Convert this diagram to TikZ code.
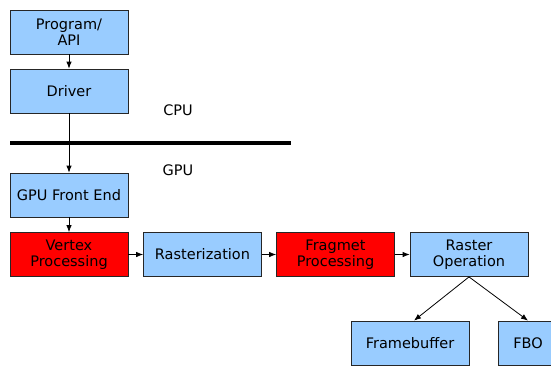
\documentclass[tikz,border=0pt]{standalone}
\usepackage{fontspec}
\setmainfont{DejaVu Sans}
\usetikzlibrary{arrows.meta,calc}
\definecolor{boxblue}{HTML}{99CCFF}
\definecolor{boxred}{HTML}{FF0000}
\begin{document}
\begin{tikzpicture}[x=1pt,y=-1pt,
  box/.style={draw=black!85,line width=0.8pt,minimum width=118pt,minimum height=44pt,inner sep=0pt,align=center,font=\fontsize{14.5}{16.5}\selectfont},
  bluebox/.style={box,fill=boxblue},
  redbox/.style={box,fill=boxred},
  conn/.style={line width=0.8pt,-{Latex[length=7pt,width=5.5pt]}},
  lbl/.style={font=\fontsize{14.5}{16.5}\selectfont}]
\useasboundingbox (0,0) rectangle (551,367);
\clip (0,0) rectangle (551,367);
\node[bluebox] (prog) at (69,32) {Program/\\API};
\node[bluebox] (drv) at (69,91) {Driver};
\node[bluebox] (fe) at (69,195) {GPU Front End};
\node[redbox] (vtx) at (69,254.5) {Vertex\\Processing};
\node[bluebox] (ras) at (202.5,254.5) {Rasterization};
\node[redbox] (frag) at (335.5,254.5) {Fragmet\\Processing};
\node[bluebox] (rop) at (469,254.5) {Raster\\Operation};
\node[bluebox] (fb) at (410,343) {Framebuffer};
\node[bluebox,minimum width=60pt] (fbo) at (528,343) {FBO};
\node[lbl] (cpu) at (178,110) {CPU};
\node[lbl] (gpu) at (178,170) {GPU};
\coordinate (lineA) at (10,143);
\coordinate (lineB) at (291,143);
\draw[line width=4pt] (lineA) -- (lineB);
\draw[conn] (prog) -- (drv);
\draw[conn] (drv) -- (fe);
\draw[conn] (fe) -- (vtx);
\draw[conn] (vtx) -- (ras);
\draw[conn] (ras) -- (frag);
\draw[conn] (frag) -- (rop);
\draw[conn] (rop.south) -- ($(fb.north)+(4,0)$);
\draw[conn] (rop.south) -- (fbo.north);
\end{tikzpicture}
\end{document}
